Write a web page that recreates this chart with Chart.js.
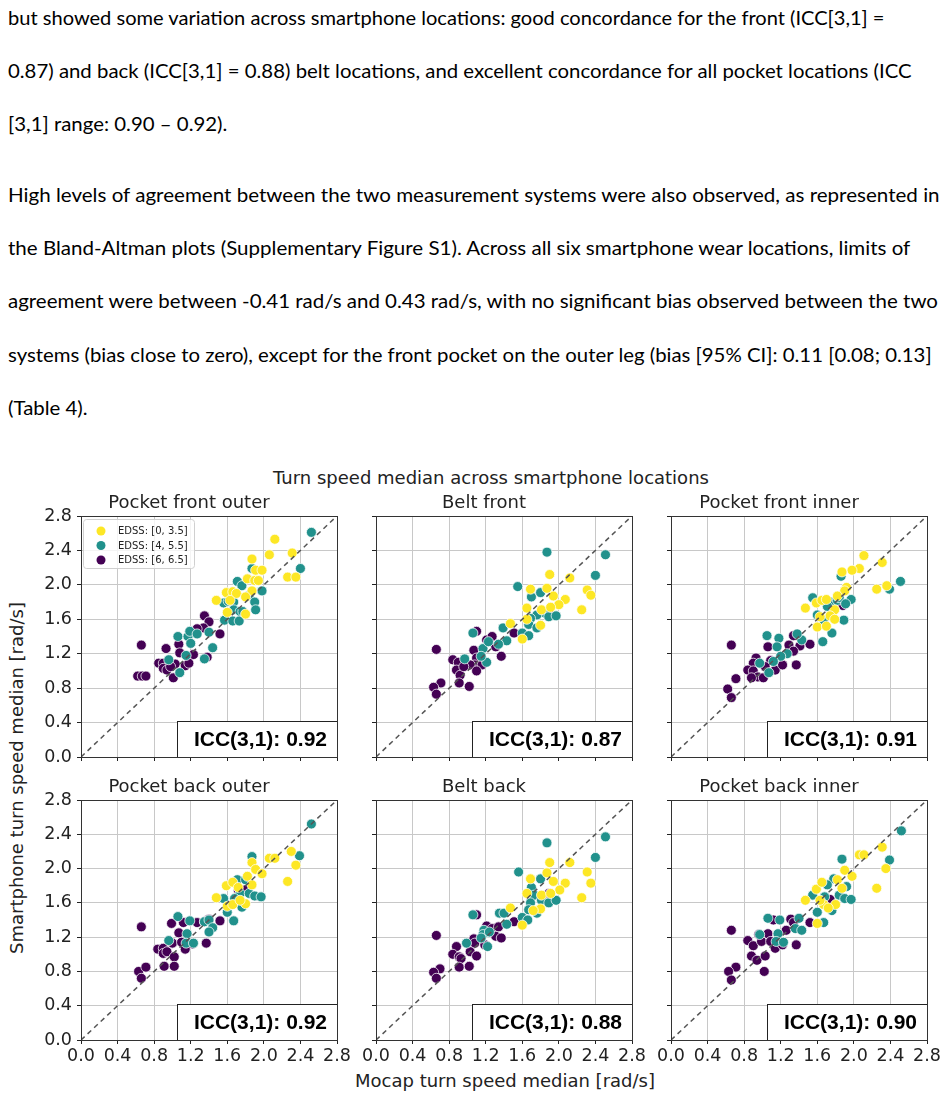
<!DOCTYPE html>
<html>
<head>
<meta charset="utf-8">
<script src="https://cdn.jsdelivr.net/npm/chart.js@4.4.1/dist/chart.umd.min.js"></script>
<style>
    body { margin: 0; background: #fff; }
    #page { position: relative; width: 946px; height: 1096px; overflow: hidden; font-family: 'DejaVu Sans', sans-serif; }
    .line { position: absolute; left: 8px; white-space: nowrap; font-family: Lato, 'Open Sans', sans-serif; font-size: 20px; line-height: 20px; color: #000; transform-origin: 0 50%; }
    .lbl { position: absolute; font-size: 18px; color: #222; white-space: nowrap; transform: translate(-50%, -50%); }
    canvas { position: absolute; }
</style>
</head>
<body>
<div id="page">
    <div class="line" style="top:7px">but showed some variation across smartphone locations: good concordance for the front (ICC[3,1] =</div>
    <div class="line" style="top:60px">0.87) and back (ICC[3,1] = 0.88) belt locations, and excellent concordance for all pocket locations (ICC</div>
    <div class="line" style="top:113px">[3,1] range: 0.90 – 0.92).</div>
    <div class="line" style="top:184px">High levels of agreement between the two measurement systems were also observed, as represented in</div>
    <div class="line" style="top:237px">the Bland-Altman plots (Supplementary Figure S1). Across all six smartphone wear locations, limits of</div>
    <div class="line" style="top:290px">agreement were between -0.41 rad/s and 0.43 rad/s, with no significant bias observed between the two</div>
    <div class="line" style="top:344px">systems (bias close to zero), except for the front pocket on the outer leg (bias [95% CI]: 0.11 [0.08; 0.13]</div>
    <div class="line" style="top:397px">(Table 4).</div>

    <div class="lbl" style="left:491px; top:477px">Turn speed median across smartphone locations</div>
    <div class="lbl" style="left:505px; top:1080px">Mocap turn speed median [rad/s]</div>
    <div class="lbl" style="left:16px; top:778px; transform: translate(-50%, -50%) rotate(-90deg)">Smartphone turn speed median [rad/s]</div>
</div>
<script>
    'use strict';

    // Chart data.
    var panelTitles = ['Pocket front outer', 'Belt front', 'Pocket front inner', 'Pocket back outer', 'Belt back', 'Pocket back inner'];
    var iccValues = ['0.92', '0.87', '0.91', '0.92', '0.88', '0.90'];
    var groupLabels = ['EDSS: [0, 3.5]', 'EDSS: [4, 5.5]', 'EDSS: [6, 6.5]'];
    var tickValues = [0, 0.4, 0.8, 1.2, 1.6, 2.0, 2.4, 2.8];
    var tickLabels = ['0.0', '0.4', '0.8', '1.2', '1.6', '2.0', '2.4', '2.8'];
    var identityLine = [[0, 0], [2.8, 2.8]];

    // Pocket front outer: [mocap, smartphone]
    var pfoLow = [[2.12,2.53],[1.87,2.30],[2.06,2.35],[2.31,2.37],[1.91,2.17],[1.98,2.17],[1.82,2.07],[1.90,2.05],[1.94,2.05],[2.26,2.09],[2.35,2.09],[1.59,1.91],[1.66,1.92],[1.70,1.90],[1.48,1.82],[1.60,1.68],[1.80,1.66],[1.87,1.93],[1.80,1.86],[1.63,1.82]];
    var pfoMid = [[2.52,2.61],[2.40,2.19],[1.87,2.19],[1.71,2.04],[1.76,1.99],[1.98,1.93],[1.84,1.88],[1.90,1.80],[1.56,1.79],[1.61,1.81],[1.67,1.80],[1.67,1.71],[1.74,1.69],[1.77,1.69],[1.91,1.71],[1.57,1.59],[1.66,1.58],[1.73,1.58],[1.06,1.40],[1.17,1.40],[1.19,1.46],[1.27,1.43],[1.40,1.45],[1.44,1.27],[1.35,1.14],[0.96,1.13],[1.08,0.98],[1.20,1.32],[1.15,1.18]];
    var pfoHigh = [[1.35,1.64],[1.40,1.57],[1.34,1.50],[1.27,1.49],[1.52,1.43],[0.66,1.30],[0.93,1.26],[1.07,1.31],[1.08,1.21],[1.17,1.16],[1.23,1.19],[1.38,1.16],[0.85,1.09],[0.90,1.09],[0.90,1.03],[0.94,1.01],[1.03,1.08],[1.14,1.06],[1.18,1.09],[1.01,0.92],[0.62,0.94],[0.67,0.94],[0.71,0.94],[0.98,1.05]];

    // Belt front
    var bfLow = [[1.90,2.12],[2.12,2.08],[1.69,1.95],[1.87,1.96],[1.94,1.87],[2.07,1.83],[2.31,1.94],[2.35,1.88],[2.25,1.71],[1.65,1.73],[1.81,1.71],[2.00,1.77],[1.91,1.74],[1.47,1.55],[1.60,1.37],[1.80,1.53],[1.65,1.60]];
    var bfMid = [[1.87,2.38],[2.51,2.35],[2.40,2.11],[1.55,1.98],[1.70,1.86],[1.80,1.91],[1.85,1.67],[1.89,1.63],[1.97,1.64],[1.76,1.65],[1.69,1.61],[1.67,1.54],[1.76,1.50],[1.60,1.44],[1.67,1.41],[1.39,1.50],[1.43,1.35],[1.34,1.31],[1.06,1.44],[1.17,1.26],[1.23,1.34],[0.97,1.14],[1.21,1.10],[1.15,1.17]];
    var bfHigh = [[1.89,1.69],[1.51,1.44],[1.21,1.36],[1.27,1.40],[1.10,1.46],[1.31,1.28],[1.37,1.17],[0.66,1.25],[0.84,1.13],[0.90,1.10],[0.88,1.01],[0.92,0.95],[1.07,1.24],[1.10,1.15],[1.08,1.07],[1.03,1.07],[1.16,1.07],[1.10,1.00],[0.91,0.86],[1.02,0.82],[0.71,0.86],[0.63,0.81],[0.66,0.73],[0.96,1.05]];

    // Pocket front inner
    var pfiLow = [[2.11,2.34],[2.31,2.26],[2.06,2.19],[1.98,2.17],[1.87,2.15],[1.92,1.97],[1.90,1.93],[2.25,1.95],[2.36,1.99],[1.47,1.73],[1.59,1.79],[1.65,1.82],[1.70,1.83],[1.82,1.87],[1.79,1.71],[1.74,1.64],[1.60,1.51],[1.70,1.52],[1.79,1.60],[1.63,1.63]];
    var pfiMid = [[2.51,2.04],[2.39,1.95],[1.86,2.10],[1.55,1.85],[1.75,1.80],[1.82,1.82],[1.84,1.85],[1.97,1.83],[1.91,1.78],[1.71,1.75],[1.60,1.65],[1.67,1.59],[1.89,1.59],[1.76,1.44],[1.66,1.34],[1.05,1.41],[1.18,1.38],[1.43,1.36],[1.38,1.43],[1.16,1.28],[1.27,1.20],[1.20,1.17],[0.97,1.09],[1.07,0.98],[1.12,1.11]];
    var pfiHigh = [[1.88,1.76],[1.34,1.41],[1.06,1.28],[1.29,1.30],[1.41,1.29],[1.52,1.31],[0.66,1.30],[1.34,1.23],[0.93,1.15],[0.90,1.09],[1.09,1.12],[1.03,1.05],[1.14,1.01],[1.22,1.07],[1.37,1.07],[0.84,1.01],[0.90,1.00],[0.95,0.93],[0.88,0.92],[1.01,0.92],[0.71,0.91],[0.62,0.79],[0.66,0.69]];

    // Pocket back outer
    var pboLow = [[2.30,2.20],[2.35,2.04],[2.06,2.12],[2.12,2.12],[1.87,2.07],[1.91,1.99],[1.98,1.94],[1.82,1.91],[2.26,1.85],[1.59,1.80],[1.66,1.84],[1.72,1.78],[1.87,1.81],[1.48,1.66],[1.60,1.56],[1.66,1.58],[1.80,1.59],[1.74,1.63]];
    var pboMid = [[2.52,2.52],[2.39,2.15],[1.87,2.14],[1.71,1.87],[1.80,1.87],[1.74,1.71],[1.84,1.71],[1.90,1.68],[1.97,1.67],[1.56,1.65],[1.68,1.65],[1.60,1.49],[1.76,1.55],[1.67,1.39],[1.06,1.44],[1.19,1.39],[1.35,1.38],[1.40,1.40],[1.44,1.31],[1.40,1.26],[0.96,1.16],[1.16,1.24],[1.15,1.13],[1.23,1.13]];
    var pboHigh = [[1.72,1.75],[1.79,1.75],[0.66,1.32],[0.99,1.36],[1.12,1.37],[1.27,1.37],[1.35,1.38],[1.40,1.41],[1.52,1.39],[1.07,1.25],[1.00,1.13],[1.10,1.14],[1.22,1.12],[1.37,1.13],[0.84,1.06],[0.90,1.07],[0.90,1.01],[0.94,1.03],[1.02,0.97],[1.14,1.06],[0.91,0.86],[1.02,0.86],[0.63,0.80],[0.71,0.85],[0.66,0.72]];

    // Belt back
    var bbLow = [[1.90,2.07],[2.12,2.07],[1.69,1.88],[1.87,1.95],[1.94,1.85],[2.07,1.83],[2.31,1.96],[2.35,1.83],[2.25,1.66],[1.65,1.71],[1.81,1.69],[2.01,1.75],[1.47,1.54],[1.60,1.34],[1.80,1.53],[1.72,1.51],[1.91,1.71]];
    var bbMid = [[1.87,2.30],[2.51,2.37],[2.40,2.13],[1.56,1.96],[1.80,1.88],[1.70,1.78],[1.73,1.69],[1.81,1.63],[1.89,1.60],[1.97,1.63],[1.69,1.60],[1.67,1.52],[1.76,1.48],[1.60,1.43],[1.66,1.40],[1.35,1.48],[1.40,1.48],[1.43,1.35],[1.06,1.46],[1.18,1.28],[1.17,1.23],[1.24,1.26],[0.99,1.13],[1.22,1.09],[1.15,1.19]];
    var bbHigh = [[1.89,1.71],[1.51,1.38],[1.10,1.46],[1.21,1.33],[1.27,1.30],[1.34,1.32],[1.31,1.21],[1.37,1.19],[0.66,1.22],[1.07,1.18],[1.08,1.13],[0.88,1.09],[0.84,1.00],[0.91,0.97],[1.03,1.03],[1.10,0.98],[1.19,1.11],[0.93,0.95],[0.91,0.85],[1.02,0.86],[0.70,0.83],[0.63,0.79],[0.66,0.72]];

    // Pocket back inner
    var pbiLow = [[2.06,2.16],[2.11,2.16],[2.31,2.25],[2.35,2.00],[1.90,1.98],[1.98,1.91],[1.82,1.87],[2.25,1.77],[1.59,1.76],[1.65,1.84],[1.87,1.77],[1.47,1.63],[1.60,1.36],[1.67,1.58],[1.80,1.58],[1.72,1.54],[1.63,1.63]];
    var pbiMid = [[2.52,2.44],[2.39,2.10],[1.87,2.11],[1.55,1.69],[1.78,1.88],[1.71,1.81],[1.92,1.79],[1.84,1.69],[1.90,1.65],[1.97,1.64],[1.68,1.67],[1.60,1.49],[1.76,1.51],[1.67,1.37],[1.06,1.42],[1.19,1.40],[1.40,1.42],[1.36,1.30],[1.43,1.28],[0.97,1.23],[1.17,1.24],[1.15,1.15],[1.23,1.14]];
    var pbiHigh = [[1.74,1.64],[0.66,1.28],[1.12,1.40],[1.31,1.41],[1.34,1.37],[1.52,1.37],[1.26,1.28],[1.06,1.24],[0.96,1.23],[0.84,1.16],[0.90,1.10],[0.99,1.15],[1.09,1.15],[1.14,1.07],[1.22,1.11],[1.37,1.11],[0.88,0.98],[0.94,0.93],[1.03,0.98],[1.02,0.80],[0.71,0.85],[0.63,0.80],[0.66,0.70]];

    var panelGroups = [
        [pfoLow, pfoMid, pfoHigh],
        [bfLow, bfMid, bfHigh],
        [pfiLow, pfiMid, pfiHigh],
        [pboLow, pboMid, pboHigh],
        [bbLow, bbMid, bbHigh],
        [pbiLow, pbiMid, pbiHigh]
    ];

    // Styles and layout.
    var groupColors = ['#fde725', '#21918c', '#440154'];
    var colLeft = [81, 376, 671];
    var rowTop = [516, 800];
    var plotW = 256;
    var plotH = [241, 240];
    var AXIS_W = 40, AXIS_H = 28, TITLE_H = 23, PAD_R = 16;
    // Right edge of each paragraph line in the scan; 0 means "use the common squeeze".
    var lineRight = [885, 912, 0, 940, 910, 938, 932, 0];

    Chart.defaults.font.family = "'DejaVu Sans', sans-serif";
    Chart.defaults.color = '#222';

    /**
     * Fit each paragraph line to the width it has in the scan.
     */
    function fitLines() {
        var lines = document.querySelectorAll('.line');
        var scales = [];
        var sum = 0, n = 0;
        for (var i = 0; i < lines.length; i++) {
            if (lineRight[i]) {
                scales[i] = (lineRight[i] - 8) / lines[i].offsetWidth;
                sum += scales[i];
                n++;
            }
        }
        for (var j = 0; j < lines.length; j++) {
            var s = lineRight[j] ? scales[j] : sum / n;
            lines[j].style.transform = 'scaleX(' + s + ')';
        }
    }

    /**
     * Frame, ICC box and legend for each panel.
     */
    var panelDecor = {
        id: 'panelDecor',
        afterDatasetsDraw: function(chart, args, opts) {
            var a = chart.chartArea;
            var ctx = chart.ctx;
            ctx.save();

            // ICC box in the lower right corner.
            var bw = 160, bh = 36;
            ctx.fillStyle = '#fff';
            ctx.fillRect(a.right - bw, a.bottom - bh, bw, bh);
            ctx.strokeStyle = '#222';
            ctx.lineWidth = 1;
            ctx.strokeRect(Math.round(a.right - bw) + 0.5, Math.round(a.bottom - bh) + 0.5, bw, bh);
            ctx.fillStyle = '#000';
            ctx.font = "bold 21px 'Liberation Sans', Arial, sans-serif";
            ctx.textAlign = 'right';
            ctx.textBaseline = 'middle';
            ctx.fillText('ICC(3,1): ' + opts.icc, a.right - 10, a.bottom - bh / 2 + 1);

            // Legend, first panel only.
            if (opts.legend) {
                var lx = a.left + 2.5, ly = a.top + 3.5;
                ctx.beginPath();
                ctx.roundRect(lx, ly, 111, 49, 3);
                ctx.fillStyle = 'rgba(255,255,255,0.8)';
                ctx.fill();
                ctx.strokeStyle = '#d0d0d0';
                ctx.stroke();
                ctx.font = "10px 'DejaVu Sans', sans-serif";
                ctx.textAlign = 'left';
                chart.data.datasets.forEach(function(ds, i) {
                    if (ds.type === 'line') {
                        return;
                    }
                    var cy = a.top + 15 + i * 14.5;
                    ctx.beginPath();
                    ctx.arc(a.left + 20, cy, 4.5, 0, Math.PI * 2);
                    ctx.fillStyle = ds.backgroundColor;
                    ctx.fill();
                    ctx.fillStyle = '#222';
                    ctx.fillText(ds.label, a.left + 37, cy + 0.5);
                });
            }

            // Axes frame.
            ctx.strokeStyle = '#333';
            ctx.lineWidth = 1;
            ctx.strokeRect(Math.round(a.left) + 0.5, Math.round(a.top) + 0.5, Math.round(a.right - a.left), Math.round(a.bottom - a.top));
            ctx.restore();
        }
    };

    function makeAxis(showLabels, horizontal) {
        return {
            type: 'linear',
            min: 0,
            max: 2.8,
            afterBuildTicks: function(scale) {
                scale.ticks = tickValues.map(function(v) { return { value: v }; });
            },
            afterFit: function(scale) {
                if (horizontal) {
                    scale.height = AXIS_H;
                } else {
                    scale.width = AXIS_W;
                }
            },
            grid: {
                color: '#c8c8c8',
                lineWidth: 1,
                tickLength: 4,
                tickColor: '#222'
            },
            border: { display: false },
            ticks: {
                autoSkip: false,
                maxRotation: 0,
                padding: horizontal ? 2 : 5,
                color: '#222',
                font: { size: 17.5 },
                callback: function(value, index) {
                    return showLabels ? tickLabels[index] : '';
                }
            }
        };
    }

    function initPanel(p) {
        var col = p % 3, row = Math.floor(p / 3);
        var canvas = document.createElement('canvas');
        var w = AXIS_W + plotW + PAD_R;
        var h = TITLE_H + plotH[row] + AXIS_H;
        canvas.width = w;
        canvas.height = h;
        canvas.style.left = (colLeft[col] - AXIS_W) + 'px';
        canvas.style.top = (rowTop[row] - TITLE_H) + 'px';
        canvas.style.width = w + 'px';
        canvas.style.height = h + 'px';
        document.getElementById('page').appendChild(canvas);

        var datasets = panelGroups[p].map(function(points, g) {
            return {
                label: groupLabels[g],
                data: points,
                backgroundColor: groupColors[g],
                borderColor: '#fff',
                borderWidth: 0.75,
                pointRadius: 5,
                pointHoverRadius: 5,
                order: 1
            };
        });
        datasets.push({
            type: 'line',
            label: 'identity',
            data: identityLine,
            borderColor: '#555',
            borderWidth: 1.5,
            borderDash: [5, 4],
            pointRadius: 0,
            fill: false,
            order: 0
        });

        new Chart(canvas.getContext('2d'), {
            type: 'scatter',
            data: { datasets: datasets },
            options: {
                responsive: false,
                animation: false,
                devicePixelRatio: 1,
                events: [],
                layout: { padding: { left: 0, right: PAD_R, top: 0, bottom: 0 } },
                plugins: {
                    legend: { display: false },
                    tooltip: { enabled: false },
                    title: {
                        display: true,
                        text: panelTitles[p],
                        color: '#222',
                        font: { size: 18, weight: 'normal', lineHeight: '20px' },
                        padding: { top: 0, bottom: 3 }
                    },
                    panelDecor: { icc: iccValues[p], legend: p === 0 }
                },
                scales: {
                    x: makeAxis(row === 1, true),
                    y: makeAxis(col === 0, false)
                }
            },
            plugins: [panelDecor]
        });
    }

    fitLines();
    for (var p = 0; p < 6; p++) {
        initPanel(p);
    }
</script>
</body>
</html>
